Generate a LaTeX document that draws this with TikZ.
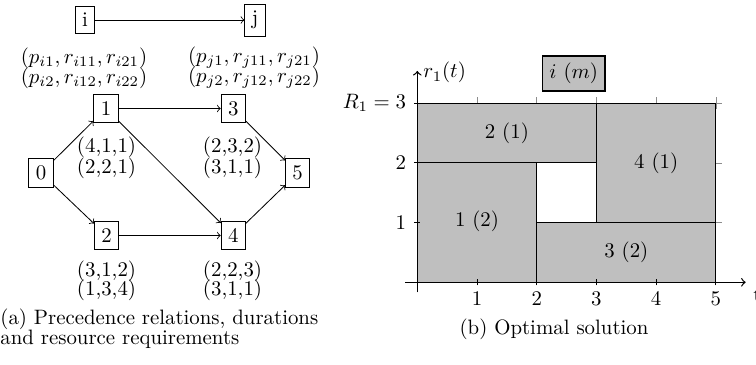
\documentclass[tikz,border=0pt]{standalone}
\begin{document}
\begin{tikzpicture}[x=0.48pt,y=-0.48pt,
  nd/.style={draw, inner sep=3.33pt},
  lbl/.style={inner sep=0pt},
  ed/.style={->},
  task/.style={draw, fill=black!25},
  tk/.style={draw=black!45, line width=0.3pt},
  ax/.style={->, line width=0.6pt}]
\useasboundingbox (0,0) rectangle (756,364);
% ---------- (a) network ----------
\node[nd] (i) at (85,20) {i};
\node[nd] (j) at (255,20) {j};
\draw[ed] (i) -- (j);
\node[lbl] (pi1) at (84,58) {$(p_{i1}, r_{i11}, r_{i21})$};
\node[lbl] (pi2) at (84,78) {$(p_{i2}, r_{i12}, r_{i22})$};
\node[lbl] (pj1) at (254,58) {$(p_{j1}, r_{j11}, r_{j21})$};
\node[lbl] (pj2) at (254,78) {$(p_{j2}, r_{j12}, r_{j22})$};

\node[nd] (n0) at (41,173) {0};
\node[nd] (n1) at (106,108.5) {1};
\node[nd] (n2) at (106.5,235.5) {2};
\node[nd] (n3) at (233.3,108.5) {3};
\node[nd] (n4) at (233.3,235.5) {4};
\node[nd] (n5) at (297.7,173) {5};
\draw[ed] (n0) -- (n1);
\draw[ed] (n0) -- (n2);
\draw[ed] (n1) -- (n3);
\draw[ed] (n1) -- (n4);
\draw[ed] (n2) -- (n4);
\draw[ed] (n3) -- (n5);
\draw[ed] (n4) -- (n5);

\node[lbl] (l1a) at (106.5,147) {(4,1,1)};
\node[lbl] (l1b) at (106.5,168) {(2,2,1)};
\node[lbl] (l3a) at (232.5,147) {(2,3,2)};
\node[lbl] (l3b) at (232.5,168) {(3,1,1)};
\node[lbl] (l2a) at (106.5,271.7) {(3,1,2)};
\node[lbl] (l2b) at (106.5,290) {(1,3,4)};
\node[lbl] (l4a) at (232.5,271.7) {(2,2,3)};
\node[lbl] (l4b) at (232.5,290) {(3,1,1)};

\node[lbl, anchor=west] (capa1) at (0,319) {(a) Precedence relations, durations};
\node[lbl, anchor=west] (capa2) at (0,339) {and resource requirements};

% ---------- (b) chart ----------
\node[lbl] (capb) at (554,329) {(b) Optimal solution};
\begin{scope}[shift={(417.3,282.3)}, x=28.66pt, y=28.66pt]
  \foreach \t in {1,...,5} \draw[tk] (\t,2.9) -- (\t,3.1);
  \foreach \r in {1,2,3} \draw[tk] (4.9,\r) -- (5.1,\r);
  \draw[task] (0,0) rectangle (2,2);
  \draw[task] (0,2) rectangle (3,3);
  \draw[task] (2,0) rectangle (5,1);
  \draw[task] (3,1) rectangle (5,3);
  \node (t1) at (1,1.015) {1 (2)};
  \node (t2) at (1.5,2.49) {2 (1)};
  \node (t3) at (3.5,0.5) {3 (2)};
  \node (t4) at (4,2) {4 (1)};
  \foreach \t in {1,...,5} {
    \draw (\t,-0.05) -- (\t,0.05);
    \node[lbl] at (\t,-0.27) {$\t$};
  }
  \foreach \r in {1,2} {
    \draw (-0.05,\r) -- (0.05,\r);
    \node[lbl, anchor=east] at (-0.18,\r) {$\r$};
  }
  \draw (-0.05,3) -- (0.05,3);
  \node[lbl, anchor=east] (R1) at (-0.18,3) {$R_1 = 3$};
  \coordinate (xs) at (-0.2,0);
  \coordinate (xe) at (5.5,0);
  \coordinate (ys) at (0,-0.17);
  \coordinate (ye) at (0,3.54);
  \draw[ax] (xs) -- (xe);
  \draw[ax] (ys) -- (ye);
  \node[lbl, anchor=west] (rl) at (0.095,3.51) {$r_1(t)$};
  \node[lbl, anchor=west] (tl) at (5.62,-0.21) {t};
  \node[draw, fill=black!25, line width=0.8pt] (leg) at (2.62,3.50) {$i$ $(m)$};
\end{scope}
\end{tikzpicture}
\end{document}
